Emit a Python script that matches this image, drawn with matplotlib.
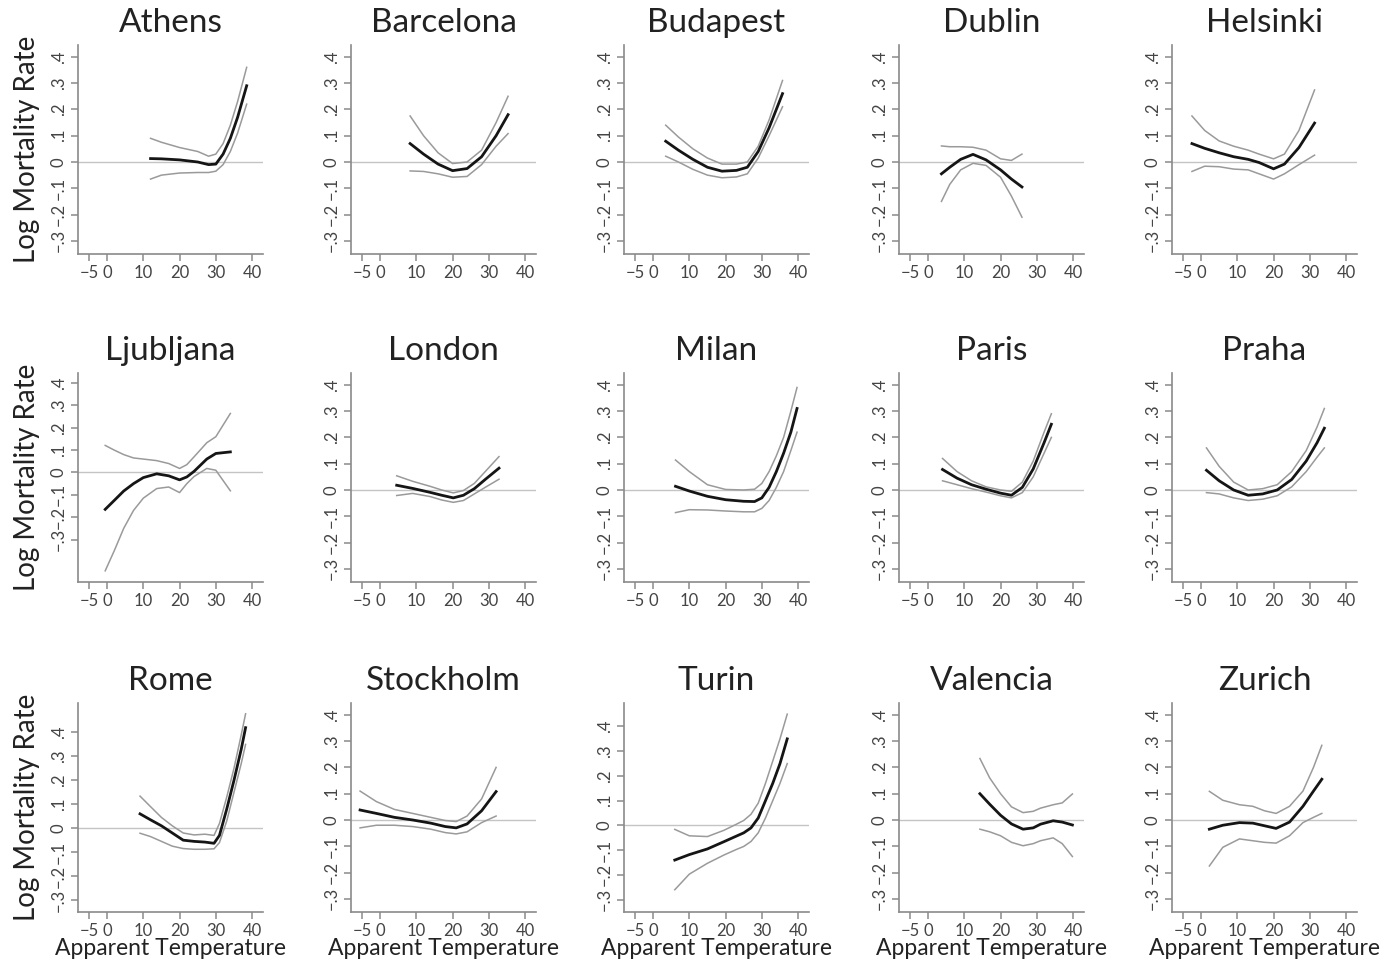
import numpy as np
import matplotlib.pyplot as plt

plt.rcParams['font.family'] = ['Lato', 'DejaVu Sans']

cities = ['Athens', 'Barcelona', 'Budapest', 'Dublin', 'Helsinki',
          'Ljubljana', 'London', 'Milan', 'Paris', 'Praha',
          'Rome', 'Stockholm', 'Turin', 'Valencia', 'Zurich']

# apparent temperature where the curves were read
temps = [
    [12, 15, 20, 25, 28, 30, 32, 34, 36, 38.5],
    [8.3, 12, 16, 20, 24, 28, 32, 35.3],
    [3.5, 7, 11, 15, 19, 23, 26, 29, 32, 35.7],
    [3.7, 6, 9, 12.4, 16, 20, 23, 25.9],
    [-2.5, 1, 5, 9, 13, 16, 20, 23, 27, 31.3],
    [-0.5, 2, 4.6, 7.3, 10, 13.7, 17, 20, 22, 24, 27.5, 30, 34],
    [4.6, 9, 13.8, 17, 20.2, 23, 26, 29, 32.8],
    [6.2, 10, 15, 20, 25, 28, 30, 32, 34, 36, 38, 39.7],
    [4, 8, 12, 16, 20, 23, 26, 29, 32, 34],
    [1.5, 5, 9, 13, 17, 21, 25, 29, 32, 34],
    [9.1, 12, 15, 18, 21, 24, 27, 29.5, 31, 33, 35, 37, 38.2],
    [-5.5, -1, 4, 9, 14, 18, 21, 24, 28, 32],
    [6, 10, 15, 19.5, 23, 25, 27, 29, 31, 33, 35, 37],
    [14.3, 17, 20, 23, 26.2, 29, 31, 34.5, 37, 39.8],
    [2.3, 6, 10.6, 14.3, 17.5, 20.7, 24.4, 28.1, 31, 33.3],
]

est = [
    [0.013, 0.012, 0.008, 0.0, -0.01, -0.008, 0.03, 0.09, 0.17, 0.29],
    [0.07, 0.03, -0.008, -0.033, -0.025, 0.02, 0.1, 0.18],
    [0.079, 0.045, 0.01, -0.02, -0.035, -0.032, -0.02, 0.04, 0.13, 0.26],
    [-0.045, -0.02, 0.01, 0.029, 0.008, -0.03, -0.065, -0.095],
    [0.07, 0.052, 0.035, 0.02, 0.01, -0.002, -0.026, -0.008, 0.055, 0.148],
    [-0.165, -0.125, -0.083, -0.05, -0.023, -0.006, -0.015, -0.033, -0.02, 0.005, 0.06, 0.085, 0.092],
    [0.018, 0.006, -0.009, -0.02, -0.03, -0.02, 0.005, 0.04, 0.083],
    [0.014, -0.004, -0.024, -0.037, -0.043, -0.044, -0.03, 0.01, 0.07, 0.14, 0.22, 0.31],
    [0.078, 0.045, 0.02, 0.003, -0.012, -0.02, 0.01, 0.08, 0.18, 0.25],
    [0.075, 0.035, 0.0, -0.02, -0.015, 0.0, 0.04, 0.11, 0.18, 0.235],
    [0.06, 0.035, 0.01, -0.02, -0.05, -0.055, -0.058, -0.063, -0.03, 0.08, 0.2, 0.33, 0.42],
    [0.038, 0.025, 0.01, 0.0, -0.012, -0.025, -0.03, -0.015, 0.035, 0.108],
    [-0.14, -0.118, -0.095, -0.066, -0.043, -0.03, -0.01, 0.03, 0.1, 0.17, 0.25, 0.35],
    [0.1, 0.06, 0.018, -0.015, -0.035, -0.03, -0.016, -0.003, -0.008, -0.019],
    [-0.035, -0.02, -0.01, -0.012, -0.022, -0.032, -0.008, 0.052, 0.11, 0.155],
]

lo = [
    [-0.065, -0.05, -0.042, -0.04, -0.04, -0.035, -0.01, 0.04, 0.11, 0.22],
    [-0.034, -0.036, -0.045, -0.058, -0.055, -0.01, 0.06, 0.108],
    [0.022, 0.0, -0.028, -0.05, -0.06, -0.057, -0.045, 0.015, 0.1, 0.21],
    [-0.15, -0.085, -0.03, -0.005, -0.013, -0.058, -0.13, -0.21],
    [-0.036, -0.016, -0.018, -0.027, -0.03, -0.045, -0.065, -0.045, -0.01, 0.026],
    [-0.44, -0.35, -0.25, -0.17, -0.115, -0.072, -0.065, -0.09, -0.05, -0.018, 0.018, 0.01, -0.082],
    [-0.021, -0.013, -0.025, -0.038, -0.047, -0.04, -0.015, 0.01, 0.041],
    [-0.086, -0.075, -0.076, -0.08, -0.083, -0.083, -0.07, -0.04, 0.01, 0.07, 0.15, 0.22],
    [0.035, 0.02, 0.005, -0.008, -0.022, -0.03, -0.01, 0.05, 0.14, 0.2],
    [-0.01, -0.015, -0.03, -0.04, -0.035, -0.022, 0.012, 0.07, 0.125, 0.16],
    [-0.021, -0.035, -0.055, -0.075, -0.085, -0.088, -0.088, -0.086, -0.06, 0.03, 0.15, 0.27, 0.35],
    [-0.03, -0.02, -0.02, -0.025, -0.035, -0.048, -0.053, -0.045, -0.01, 0.015],
    [-0.26, -0.197, -0.153, -0.12, -0.097, -0.085, -0.065, -0.03, 0.03, 0.1, 0.17, 0.25],
    [-0.035, -0.045, -0.06, -0.085, -0.098, -0.09, -0.079, -0.068, -0.09, -0.139],
    [-0.175, -0.104, -0.072, -0.079, -0.085, -0.088, -0.06, -0.01, 0.01, 0.025],
]

hi = [
    [0.09, 0.075, 0.055, 0.04, 0.022, 0.03, 0.07, 0.14, 0.23, 0.36],
    [0.175, 0.1, 0.035, -0.006, 0.0, 0.045, 0.15, 0.25],
    [0.14, 0.095, 0.05, 0.015, -0.008, -0.008, 0.0, 0.06, 0.16, 0.31],
    [0.061, 0.058, 0.058, 0.056, 0.045, 0.012, 0.006, 0.03],
    [0.175, 0.12, 0.08, 0.06, 0.045, 0.03, 0.012, 0.03, 0.12, 0.274],
    [0.121, 0.1, 0.08, 0.065, 0.06, 0.053, 0.04, 0.018, 0.035, 0.07, 0.133, 0.16, 0.264],
    [0.054, 0.033, 0.014, 0.0, -0.011, -0.002, 0.025, 0.07, 0.127],
    [0.114, 0.07, 0.02, 0.002, 0.0, 0.003, 0.025, 0.07, 0.13, 0.2, 0.3, 0.39],
    [0.12, 0.07, 0.035, 0.012, 0.0, -0.005, 0.03, 0.11, 0.22, 0.29],
    [0.16, 0.09, 0.03, 0.0, 0.005, 0.02, 0.07, 0.15, 0.24, 0.31],
    [0.134, 0.09, 0.045, 0.01, -0.02, -0.028, -0.025, -0.03, 0.02, 0.13, 0.25, 0.39, 0.478],
    [0.11, 0.07, 0.04, 0.025, 0.01, -0.002, -0.006, 0.015, 0.08, 0.2],
    [-0.016, -0.042, -0.045, -0.02, 0.005, 0.02, 0.045, 0.09, 0.17, 0.26, 0.35, 0.45],
    [0.234, 0.16, 0.1, 0.05, 0.028, 0.033, 0.045, 0.058, 0.065, 0.099],
    [0.109, 0.075, 0.058, 0.052, 0.035, 0.025, 0.052, 0.11, 0.2, 0.284],
]

yticks = [-.3, -.2, -.1, 0, .1, .2, .3, .4]
ytlabels = ['\u2212.3', '\u2212.2', '\u2212.1', '0', '.1', '.2', '.3', '.4']
xticks = [-5, 0, 10, 20, 30, 40]
xtlabels = ['\u22125', '0', '10', '20', '30', '40']

W, H = 1387, 960
fig = plt.figure(figsize=(W / 100, H / 100), dpi=100)
lefts = [78, 351, 624, 899, 1172]
tops = [45, 373, 703]
aw, ah = 185, 209
axcol = '#8a8a8a'

for i, city in enumerate(cities):
    r, c = divmod(i, 5)
    ax = fig.add_axes([lefts[c] / W, 1 - (tops[r] + ah) / H, aw / W, ah / H])
    t = np.array(temps[i])
    ax.axhline(0, color='#c4c4c4', lw=1.0, zorder=1)
    ax.plot(t, lo[i], color='#9a9a9a', lw=1.1, zorder=2)
    ax.plot(t, hi[i], color='#9a9a9a', lw=1.1, zorder=2)
    ax.plot(t, est[i], color='#151515', lw=2.0, zorder=3)

    ymin = min(-0.3, min(lo[i])) - 0.05
    ymax = max(0.4, max(hi[i])) + 0.045
    ax.set_xlim(-8, 43)
    ax.set_ylim(ymin, ymax)

    ax.set_xticks(xticks)
    ax.set_xticklabels(xtlabels)
    ax.set_yticks(yticks)
    ax.set_yticklabels(ytlabels, rotation=90, va='center')
    ax.tick_params(colors='#444444', labelsize=12, length=5, width=1.1,
                   color=axcol, pad=3)
    for s in ['top', 'right']:
        ax.spines[s].set_visible(False)
    for s in ['left', 'bottom']:
        ax.spines[s].set_color(axcol)
        ax.spines[s].set_linewidth(1.2)

    ax.set_title(city, fontsize=24, pad=9, color='#222222')
    if c == 0:
        ax.set_ylabel('Log Mortality Rate', fontsize=20, color='#222222', labelpad=8)
    if r == 2:
        ax.set_xlabel('Apparent Temperature', fontsize=16.5, color='#222222', labelpad=-1)

fig.savefig('out.png', dpi=100)
